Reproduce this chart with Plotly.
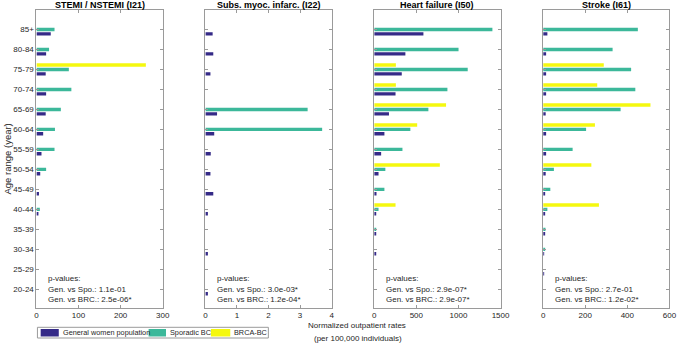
import plotly.graph_objects as go

W, H = 685, 344

categories = ['85+', '80-84', '75-79', '70-74', '65-69', '60-64', '55-59',
              '50-54', '45-49', '40-44', '35-39', '30-34', '25-29', '20-24']

stemi_gen = [34, 23, 22, 23, 22, 16, 12, 9, 6, 3, 0, 0, 0, 0]
stemi_spo = [43, 30, 77, 83, 58, 44, 43, 23, 0, 8, 0, 0, 0, 0]
stemi_brca = [0, 0, 260, 0, 0, 0, 0, 0, 0, 0, 0, 0, 0, 0]

subs_gen = [0.23, 0.25, 0.16, 0, 0.37, 0.28, 0.17, 0.16, 0.25, 0.08, 0, 0.08, 0, 0.08]
subs_spo = [0, 0, 0, 0, 3.24, 3.70, 0, 0, 0, 0, 0, 0, 0, 0]
subs_brca = [0, 0, 0, 0, 0, 0, 0, 0, 0, 0, 0, 0, 0, 0]

hf_gen = [584, 370, 327, 253, 175, 121, 82, 51, 27, 19, 15, 12, 0, 0]
hf_spo = [1403, 1001, 1110, 869, 643, 429, 335, 132, 121, 51, 19, 0, 0, 0]
hf_brca = [0, 0, 257, 257, 853, 510, 0, 779, 0, 253, 0, 0, 0, 0]

stroke_gen = [20, 14, 14, 14, 12, 14, 14, 12, 8, 6, 5, 3, 2, 0]
stroke_spo = [450, 330, 418, 438, 368, 204, 140, 51, 34, 20, 11, 9, 0, 0]
stroke_brca = [0, 0, 288, 257, 510, 246, 0, 229, 0, 265, 0, 0, 0, 0]

titles = ['STEMI / NSTEMI (I21)', 'Subs. myoc. infarc. (I22)', 'Heart failure (I50)', 'Stroke (I61)']
pvals = [('Gen. vs Spo.: 1.1e-01', 'Gen. vs BRC.: 2.5e-06*'),
         ('Gen. vs Spo.: 3.0e-03*', 'Gen. vs BRC.: 1.2e-04*'),
         ('Gen. vs Spo.: 2.9e-07*', 'Gen. vs BRC.: 2.9e-07*'),
         ('Gen. vs Spo.: 2.7e-01', 'Gen. vs BRC.: 1.2e-02*')]
x_ranges = [[0, 300], [0, 4], [0, 1500], [0, 600]]
x_ticks = [[0, 100, 200, 300], [0, 1, 2, 3, 4], [0, 500, 1000, 1500], [0, 200, 400, 600]]
series_names = ['General women population', 'Sporadic BC', 'BRCA-BC']
colors = ['#352A87', '#3CB89A', '#F5F80F']

panels = [(stemi_gen, stemi_spo, stemi_brca), (subs_gen, subs_spo, subs_brca),
          (hf_gen, hf_spo, hf_brca), (stroke_gen, stroke_spo, stroke_brca)]

n = len(categories)
pos = [n - i for i in range(n)]
offsets = [-0.22, 0.0, 0.22]

FONT = 'Liberation Sans, Arial, sans-serif'
TXT = '#262626'
LINE = '#9a9a9a'

def px(x):
    return x / W

def py(y):
    return 1 - y / H

x_px = [(35, 163.3), (206.7, 335), (378.3, 506.7), (550, 678.3)]
top_px, bot_px = 9.5, 307.7

fig = go.Figure()
for k, data in enumerate(panels):
    xa = 'x' if k == 0 else f'x{k+1}'
    ya = 'y' if k == 0 else f'y{k+1}'
    for s, vals in enumerate(data):
        fig.add_trace(go.Bar(
            x=vals, y=[p + offsets[s] for p in pos], orientation='h',
            width=0.17, base=0, marker=dict(color=colors[s], line=dict(width=0)),
            name=series_names[s], showlegend=False, xaxis=xa, yaxis=ya,
            hoverinfo='x+name'))

layout = dict(
    width=W, height=H, margin=dict(l=0, r=0, t=0, b=0),
    paper_bgcolor='white', plot_bgcolor='white',
    font=dict(family=FONT, size=8, color=TXT),
    barmode='overlay', showlegend=False,
)
for k in range(4):
    sx = '' if k == 0 else str(k + 1)
    layout['xaxis' + sx] = dict(
        domain=[px(x_px[k][0]), px(x_px[k][1])], range=x_ranges[k],
        tickvals=x_ticks[k], ticks='inside', ticklen=3, tickcolor=LINE,
        showline=True, linecolor=LINE, linewidth=1, mirror='ticks',
        showgrid=False, zeroline=False, anchor='y' + sx,
        tickfont=dict(size=8, color=TXT), fixedrange=True)
    layout['yaxis' + sx] = dict(
        domain=[py(bot_px), py(top_px)], range=[0.08, 15],
        tickvals=pos, ticktext=categories, showticklabels=(k == 0),
        ticks='inside', ticklen=3, tickcolor=LINE,
        showline=True, linecolor=LINE, linewidth=1, mirror='ticks',
        showgrid=False, zeroline=False, anchor='x' + sx,
        tickfont=dict(size=8, color=TXT), fixedrange=True)
fig.update_layout(**layout)

ann = []
for k in range(4):
    cx = (x_px[k][0] + x_px[k][1]) / 2
    ann.append(dict(text='<b>' + titles[k] + '</b>', x=px(cx), y=py(4.5), xref='paper', yref='paper',
                    xanchor='center', yanchor='middle', showarrow=False,
                    font=dict(size=9, color='#000000')))
    lx = x_px[k][0] + 10
    for j, (t, yy) in enumerate(zip(('p-values:',) + pvals[k], (278.3, 289, 299.3))):
        ann.append(dict(text=t, x=px(lx), y=py(yy), xref='paper', yref='paper',
                        xanchor='left', yanchor='middle', showarrow=False,
                        font=dict(size=8, color=TXT)))

ann.append(dict(text='Age range (year)', x=px(6), y=py(158.6), xref='paper', yref='paper',
                xanchor='center', yanchor='middle', textangle=-90, showarrow=False,
                font=dict(size=9.5, color=TXT)))
ann.append(dict(text='Normalized outpatient rates', x=px(361), y=py(325.5), xref='paper', yref='paper',
                xanchor='center', yanchor='middle', showarrow=False, font=dict(size=8, color=TXT)))
ann.append(dict(text='(per 100,000 individuals)', x=px(362), y=py(338), xref='paper', yref='paper',
                xanchor='center', yanchor='middle', showarrow=False, font=dict(size=8, color=TXT)))

# legend drawn manually
shapes = [dict(type='rect', xref='paper', yref='paper', x0=px(36), x1=px(270.7), y0=py(338), y1=py(327.3),
               line=dict(color=LINE, width=1), fillcolor='white')]
leg_sw = [(39.3, 57.7, 60), (149, 166.7, 168.7), (212.3, 232, 234)]
for s, (a, b, t) in enumerate(leg_sw):
    shapes.append(dict(type='rect', xref='paper', yref='paper', x0=px(a), x1=px(b), y0=py(336.5), y1=py(329),
                       line=dict(width=0), fillcolor=colors[s]))
    ann.append(dict(text=series_names[s], x=px(t), y=py(332.8), xref='paper', yref='paper',
                    xanchor='left', yanchor='middle', showarrow=False, font=dict(size=7.3, color=TXT)))

fig.update_layout(annotations=ann, shapes=shapes)
fig.write_html('out.html', config={'displayModeBar': False},
               post_script="document.body.style.margin='0';document.body.style.padding='0';")
